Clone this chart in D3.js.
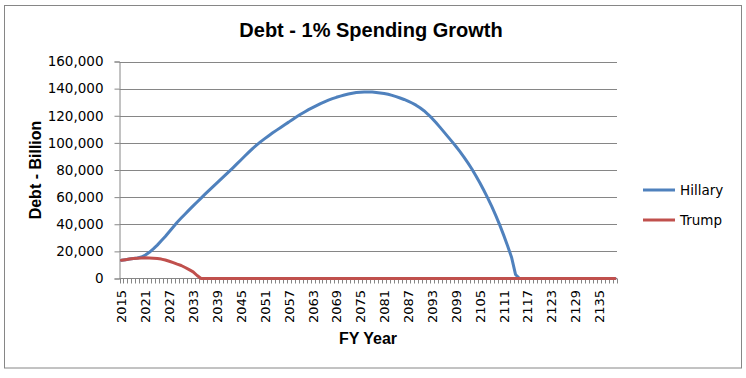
<!DOCTYPE html>
<html>
<head>
<meta charset="utf-8">
<script src="https://cdn.jsdelivr.net/npm/d3@7"></script>
<style>
  html, body { margin: 0; padding: 0; background: #fff; }
  svg { display: block; }
</style>
</head>
<body>
<div id="chart"></div>
<script>
// 数据：年份（类别）
const years = d3.range(2015, 2140);

// Hillary 债务（十亿）
const hillary = [
  13500, 13900, 14300, 14700, 15100, 15800, 17300, 19300, 21800, 24600,
  27800, 31000, 34500, 38000, 41500, 44600, 47600, 50600, 53500, 56400,
  59300, 62200, 65000, 67800, 70500, 73300, 76000, 78800, 81600, 84500,
  87400, 90300, 93200, 96000, 98500, 100900, 103100, 105300, 107400, 109400,
  111400, 113400, 115300, 117300, 119200, 121100, 122800, 124500, 126000, 127500,
  129000, 130300, 131500, 132600, 133600, 134500, 135300, 136000, 136600, 137100,
  137400, 137600, 137600, 137500, 137200, 136800, 136400, 135800, 135000, 134100,
  133100, 132000, 130800, 129400, 127800, 125900, 123700, 121100, 118200, 115000,
  111600, 108100, 104600, 101100, 97500, 93700, 89700, 85400, 80900, 76000,
  70800, 65300, 59500, 53300, 46700, 39700, 32200, 24200, 15700, 3000,
  0, 0, 0, 0, 0, 0, 0, 0, 0, 0,
  0, 0, 0, 0, 0, 0, 0, 0, 0, 0,
  0, 0, 0, 0, 0
];

// Trump 债务（十亿）
const trump = [
  13500, 13900, 14300, 14700, 15000, 15200, 15300, 15200, 15000, 14700,
  14300, 13600, 12700, 11700, 10600, 9600, 8100, 6500, 4900, 2200,
  0, 0, 0, 0, 0, 0, 0, 0, 0, 0,
  0, 0, 0, 0, 0, 0, 0, 0, 0, 0,
  0, 0, 0, 0, 0, 0, 0, 0, 0, 0,
  0, 0, 0, 0, 0, 0, 0, 0, 0, 0,
  0, 0, 0, 0, 0, 0, 0, 0, 0, 0,
  0, 0, 0, 0, 0, 0, 0, 0, 0, 0,
  0, 0, 0, 0, 0, 0, 0, 0, 0, 0,
  0, 0, 0, 0, 0, 0, 0, 0, 0, 0,
  0, 0, 0, 0, 0, 0, 0, 0, 0, 0,
  0, 0, 0, 0, 0, 0, 0, 0, 0, 0,
  0, 0, 0, 0, 0
];

const yTicks = [0, 20000, 40000, 60000, 80000, 100000, 120000, 140000, 160000];

const seriesNames = ['Hillary', 'Trump'];
const seriesColors = ['#4f81bd', '#c0504d'];

// 尺寸
const width = 746;
const height = 378;
const gridColor = '#868686';
const tickFont = '"DejaVu Sans", sans-serif';
const titleFont = '"Liberation Sans", Arial, sans-serif';

const svg = d3.select('#chart')
  .append('svg')
  .attr('width', width)
  .attr('height', height);

// 外框
svg.append('rect')
  .attr('x', 4.5)
  .attr('y', 5.5)
  .attr('width', 737)
  .attr('height', 362.5)
  .attr('fill', '#fff')
  .attr('stroke', gridColor)
  .attr('stroke-width', 1);

// 比例尺
const x = d3.scaleBand()
  .domain(years)
  .range([119.5, 617]);

const y = d3.scaleLinear()
  .domain([0, 160000])
  .range([278.5, 61.5]);

const xc = d => x(d) + x.bandwidth() / 2;

// 网格线
svg.append('g')
  .selectAll('line')
  .data(yTicks.filter(t => t > 0))
  .enter()
  .append('line')
  .attr('x1', 119.5)
  .attr('x2', 617)
  .attr('y1', d => Math.round(y(d)) + 0.5)
  .attr('y2', d => Math.round(y(d)) + 0.5)
  .attr('stroke', gridColor)
  .attr('stroke-width', 1);

// Y 轴
const yAxis = svg.append('g')
  .attr('transform', 'translate(119.5,0)')
  .call(d3.axisLeft(y)
    .tickValues(yTicks)
    .tickSize(5)
    .tickPadding(11)
    .tickFormat(d3.format(',')));
yAxis.select('.domain').attr('stroke', gridColor);
yAxis.selectAll('.tick line').attr('stroke', gridColor);
yAxis.selectAll('.tick text')
  .attr('font-family', tickFont)
  .attr('font-size', 13.5)
  .attr('fill', '#000');

// X 轴（刻度在类别边界上）
const xAxisG = svg.append('g');
xAxisG.append('line')
  .attr('x1', 119.5)
  .attr('x2', 617)
  .attr('y1', 278.5)
  .attr('y2', 278.5)
  .attr('stroke', gridColor);

xAxisG.selectAll('line.tk')
  .data(years.concat([null]))
  .enter()
  .append('line')
  .attr('class', 'tk')
  .attr('x1', (d, i) => Math.round(119.5 + i * x.step()) + 0.5)
  .attr('x2', (d, i) => Math.round(119.5 + i * x.step()) + 0.5)
  .attr('y1', 278.5)
  .attr('y2', 283.5)
  .attr('stroke', gridColor);

// X 轴标签，每 6 年一个
xAxisG.selectAll('text')
  .data(years.filter((d, i) => i % 6 === 0))
  .enter()
  .append('text')
  .attr('transform', d => `translate(${xc(d) + 5},290) rotate(-90)`)
  .attr('text-anchor', 'end')
  .attr('font-family', tickFont)
  .attr('font-size', 13)
  .attr('fill', '#000')
  .text(d => d);

// 折线
const line = d3.line()
  .x((d, i) => xc(years[i]))
  .y(d => y(d));

[hillary, trump].forEach((values, k) => {
  svg.append('path')
    .datum(values)
    .attr('fill', 'none')
    .attr('stroke', seriesColors[k])
    .attr('stroke-width', 3)
    .attr('stroke-linejoin', 'round')
    .attr('stroke-linecap', 'round')
    .attr('d', line);
});

// 标题
svg.append('text')
  .attr('x', 371)
  .attr('y', 37)
  .attr('text-anchor', 'middle')
  .attr('font-family', titleFont)
  .attr('font-weight', 'bold')
  .attr('font-size', 20)
  .text('Debt - 1% Spending Growth');

// 坐标轴标题
svg.append('text')
  .attr('x', 368)
  .attr('y', 344)
  .attr('text-anchor', 'middle')
  .attr('font-family', titleFont)
  .attr('font-weight', 'bold')
  .attr('font-size', 16)
  .text('FY Year');

svg.append('text')
  .attr('transform', 'translate(41,170) rotate(-90)')
  .attr('text-anchor', 'middle')
  .attr('font-family', titleFont)
  .attr('font-weight', 'bold')
  .attr('font-size', 16)
  .text('Debt - Billion');

// 图例
const legend = svg.append('g')
  .selectAll('g')
  .data(seriesNames)
  .enter()
  .append('g')
  .attr('transform', (d, i) => `translate(643,${190 + i * 30})`);

legend.append('line')
  .attr('x1', 0)
  .attr('x2', 32)
  .attr('stroke', (d, i) => seriesColors[i])
  .attr('stroke-width', 3);

legend.append('text')
  .attr('x', 37)
  .attr('y', 5)
  .attr('font-family', tickFont)
  .attr('font-size', 13.5)
  .attr('fill', '#000')
  .text(d => d);
</script>
</body>
</html>
